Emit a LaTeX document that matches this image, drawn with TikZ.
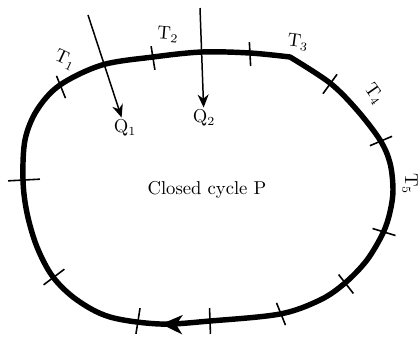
\documentclass[tikz,border=0pt]{standalone}
\usepackage{tikz}
\usetikzlibrary{arrows.meta, decorations.markings}

\begin{document}
\begin{tikzpicture}[x=0.02cm, y=-0.02cm,
  every node/.style={font=\fontsize{10.6}{13}\selectfont},
  cycleline/.style={line width=3.1pt, line join=round,
    postaction={decorate}, decoration={markings,
      mark=at position 0.456 with {\arrow{Stealth[length=0.42cm, width=0.38cm, inset=0.12cm]}}}},
  tickmark/.style={line width=0.9pt},
  heat/.style={line width=0.85pt, -{Stealth[length=0.26cm, width=0.22cm]}},
  lbl/.style={inner sep=1pt}
]
  \useasboundingbox (0,0) rectangle (420,336);

  % closed path, clockwise from the corner near T3
  \draw[cycleline] plot[smooth, tension=0.55] coordinates {
      (290,57) (330,83) (357,110) (380,140) (390,163) (393,190)
      (390,212) (383,233) (367,260) (345,283) (320,300) (280,314)
      (210,321) (160,324) (110,317) (77,300) (53,277) (37,247)
      (27,213) (23,180) (25,140) (37,110) (60,85) (102,65)
      (153,57) (202,52) (250,53) (290,57)} -- cycle;

  % ticks across the path: x/y/angle/half length
  \foreach \x/\y/\a/\l in {61/87/-68/12, 153/58/-81/12, 250/54/93/12,
      330/84/54/12, 381/141/23/12, 384/232/-17/12, 346/284/-52/12,
      281/314/-68/12, 210/321/-88/13, 138/321/81/13, 54/277/37/13, 24/180/3/16}
    \draw[tickmark, shift={(\x,\y)}, rotate=\a] (-\l,0) -- (\l,0);

  \node[lbl, rotate=-25] (t1) at (65,60) {T$_1$};
  \node[lbl, rotate=-5] (t2) at (168,35) {T$_2$};
  \node[lbl, rotate=-8] (t3) at (298,42) {T$_3$};
  \node[lbl, rotate=-55] (t4) at (374,94) {T$_4$};
  \node[lbl, rotate=-90] (t5) at (410,184) {T$_5$};

  \node[lbl] (q1) at (125,128) {Q$_1$};
  \node[lbl] (q2) at (204,118) {Q$_2$};
  \coordinate (q1top) at (88,15);
  \coordinate (q2top) at (200,8);
  \draw[heat] (q1top) -- (q1);
  \draw[heat] (q2top) -- (q2);

  \node (cyc) at (207,190) {Closed cycle P};
\end{tikzpicture}
\end{document}
